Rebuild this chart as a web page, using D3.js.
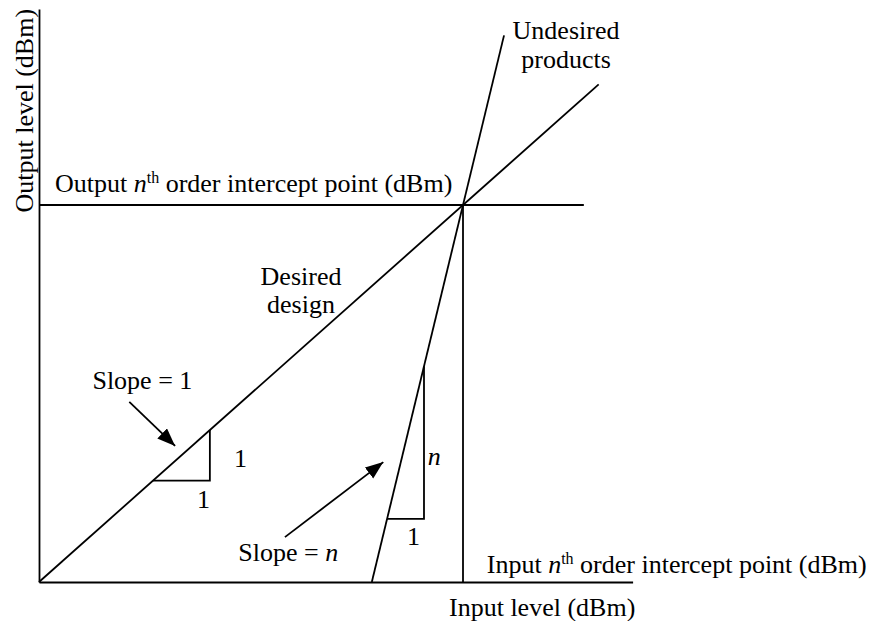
<!DOCTYPE html>
<html>
<head>
<meta charset="utf-8">
<script src="https://cdn.jsdelivr.net/npm/d3@7"></script>
<style>
  html, body { margin: 0; padding: 0; background: #fff; }
  svg { display: block; }
  text { font-family: "Liberation Serif", "Times New Roman", serif; font-size: 26px; fill: #000; }
</style>
</head>
<body>
<svg id="chart" width="884" height="621"></svg>
<script>
// ---- data (arbitrary dBm units of the schematic) ----
const iip = 10;                 // input nth order intercept point
const oip = 10;                 // output nth order intercept point
const nOrder = 4.65;            // slope of undesired products as drawn
const desiredX = [0, 13.2];     // extent of desired (slope 1) line
const undesiredY = [0, 14.5];   // extent of undesired (slope n) line
const interceptLineX = [0, 12.85];
const triangle1X = [2.69, 4.03];
const triangleNX = [8.21, 9.08];
const arrow1 = [[2.13, 4.78], [3.21, 3.61]];
const arrowN = [[5.80, 1.19], [8.12, 3.18]];
const xDomain = [0, 14];
const yDomain = [0, 15.2];

const labels = [
  {t: "Slope = 1", x: 1.26, y: 5.11, a: "start"},
  {t: "1", x: 4.75, y: 3.04, a: "middle"},
  {t: "1", x: 3.88, y: 1.955, a: "middle"},
  {t: "1", x: 8.83, y: 0.98, a: "middle"},
  {t: "Desired", x: 6.18, y: 7.88, a: "middle"},
  {t: "design", x: 6.18, y: 7.135, a: "middle"},
  {t: "Undesired", x: 12.43, y: 14.40, a: "middle"},
  {t: "products", x: 12.43, y: 13.63, a: "middle"},
  {t: "Input level (dBm)", x: 9.67, y: -0.9, a: "start"}
];

// ---- scales ----
const svg = d3.select("#chart");
const x = d3.scaleLinear().domain(xDomain).range([39, 632.6]);
const y = d3.scaleLinear().domain(yDomain).range([582, 8.96]);

const defs = svg.append("defs");
defs.append("marker")
  .attr("id", "head").attr("markerUnits", "userSpaceOnUse")
  .attr("markerWidth", 20).attr("markerHeight", 15)
  .attr("refX", 18).attr("refY", 7).attr("orient", "auto")
  .append("path").attr("d", "M0,0 L18,7 L0,14 Z").attr("fill", "#000");

// axes
svg.append("g").attr("transform", `translate(0,${y(0)})`)
  .call(d3.axisBottom(x).tickValues([]).tickSizeOuter(0))
  .call(g => g.select(".domain").attr("stroke", "#000").attr("stroke-width", 2.2));
svg.append("g").attr("transform", `translate(${x(0)},0)`)
  .call(d3.axisLeft(y).tickValues([]).tickSizeOuter(0))
  .call(g => g.select(".domain").attr("stroke", "#000").attr("stroke-width", 1.8));

const line = d3.line().x(d => x(d[0])).y(d => y(d[1]));
function draw(pts, w, extra) {
  const p = svg.append("path").attr("d", line(pts)).attr("fill", "none")
    .attr("stroke", "#000").attr("stroke-width", w).attr("stroke-linejoin", "miter");
  if (extra) extra(p);
  return p;
}

// intercept lines
draw([[interceptLineX[0], oip], [interceptLineX[1], oip]], 2.2);
draw([[iip, 0], [iip, oip]], 1.8);

// desired (slope 1)
const desired = v => v;
draw(desiredX.map(v => [v, desired(v)]), 1.8);

// undesired (slope n)
const undesired = v => oip + nOrder * (v - iip);
const undesiredX = undesiredY.map(v => iip + (v - oip) / nOrder);
draw(undesiredX.map(v => [v, undesired(v)]), 1.8);

// slope triangles
draw([[triangle1X[0], desired(triangle1X[0])], [triangle1X[1], desired(triangle1X[0])], [triangle1X[1], desired(triangle1X[1])]], 1.8);
draw([[triangleNX[0], undesired(triangleNX[0])], [triangleNX[1], undesired(triangleNX[0])], [triangleNX[1], undesired(triangleNX[1])]], 1.8);

// arrows
draw(arrow1, 1.8, p => p.attr("marker-end", "url(#head)"));
draw(arrowN, 1.8, p => p.attr("marker-end", "url(#head)"));

// labels
svg.selectAll("text.lab").data(labels).join("text").attr("class", "lab")
  .attr("x", d => x(d.x)).attr("y", d => y(d.y)).attr("text-anchor", d => d.a)
  .text(d => d.t);

// Slope = n (italic n)
const sn = svg.append("text").attr("x", x(4.70)).attr("y", y(0.565));
sn.append("tspan").text("Slope = ");
sn.append("tspan").attr("font-style", "italic").text("n");

svg.append("text").attr("x", x(9.17)).attr("y", y(3.10)).attr("font-style", "italic").text("n");

function nth(xv, yv, pre, post) {
  const t = svg.append("text").attr("x", x(xv)).attr("y", y(yv));
  t.append("tspan").text(pre + " ");
  t.append("tspan").attr("font-style", "italic").text("n");
  t.append("tspan").attr("font-size", "16px").attr("dy", -9).text("th");
  t.append("tspan").attr("dy", 9).text(" " + post);
}
nth(0.377, 10.345, "Output", "order intercept point (dBm)");
nth(10.56, 0.23, "Input", "order intercept point (dBm)");

// y axis title
svg.append("text")
  .attr("transform", `translate(${x(-0.14)},${y(12.5)}) rotate(-90)`)
  .attr("text-anchor", "middle").text("Output level (dBm)");
</script>
</body>
</html>
